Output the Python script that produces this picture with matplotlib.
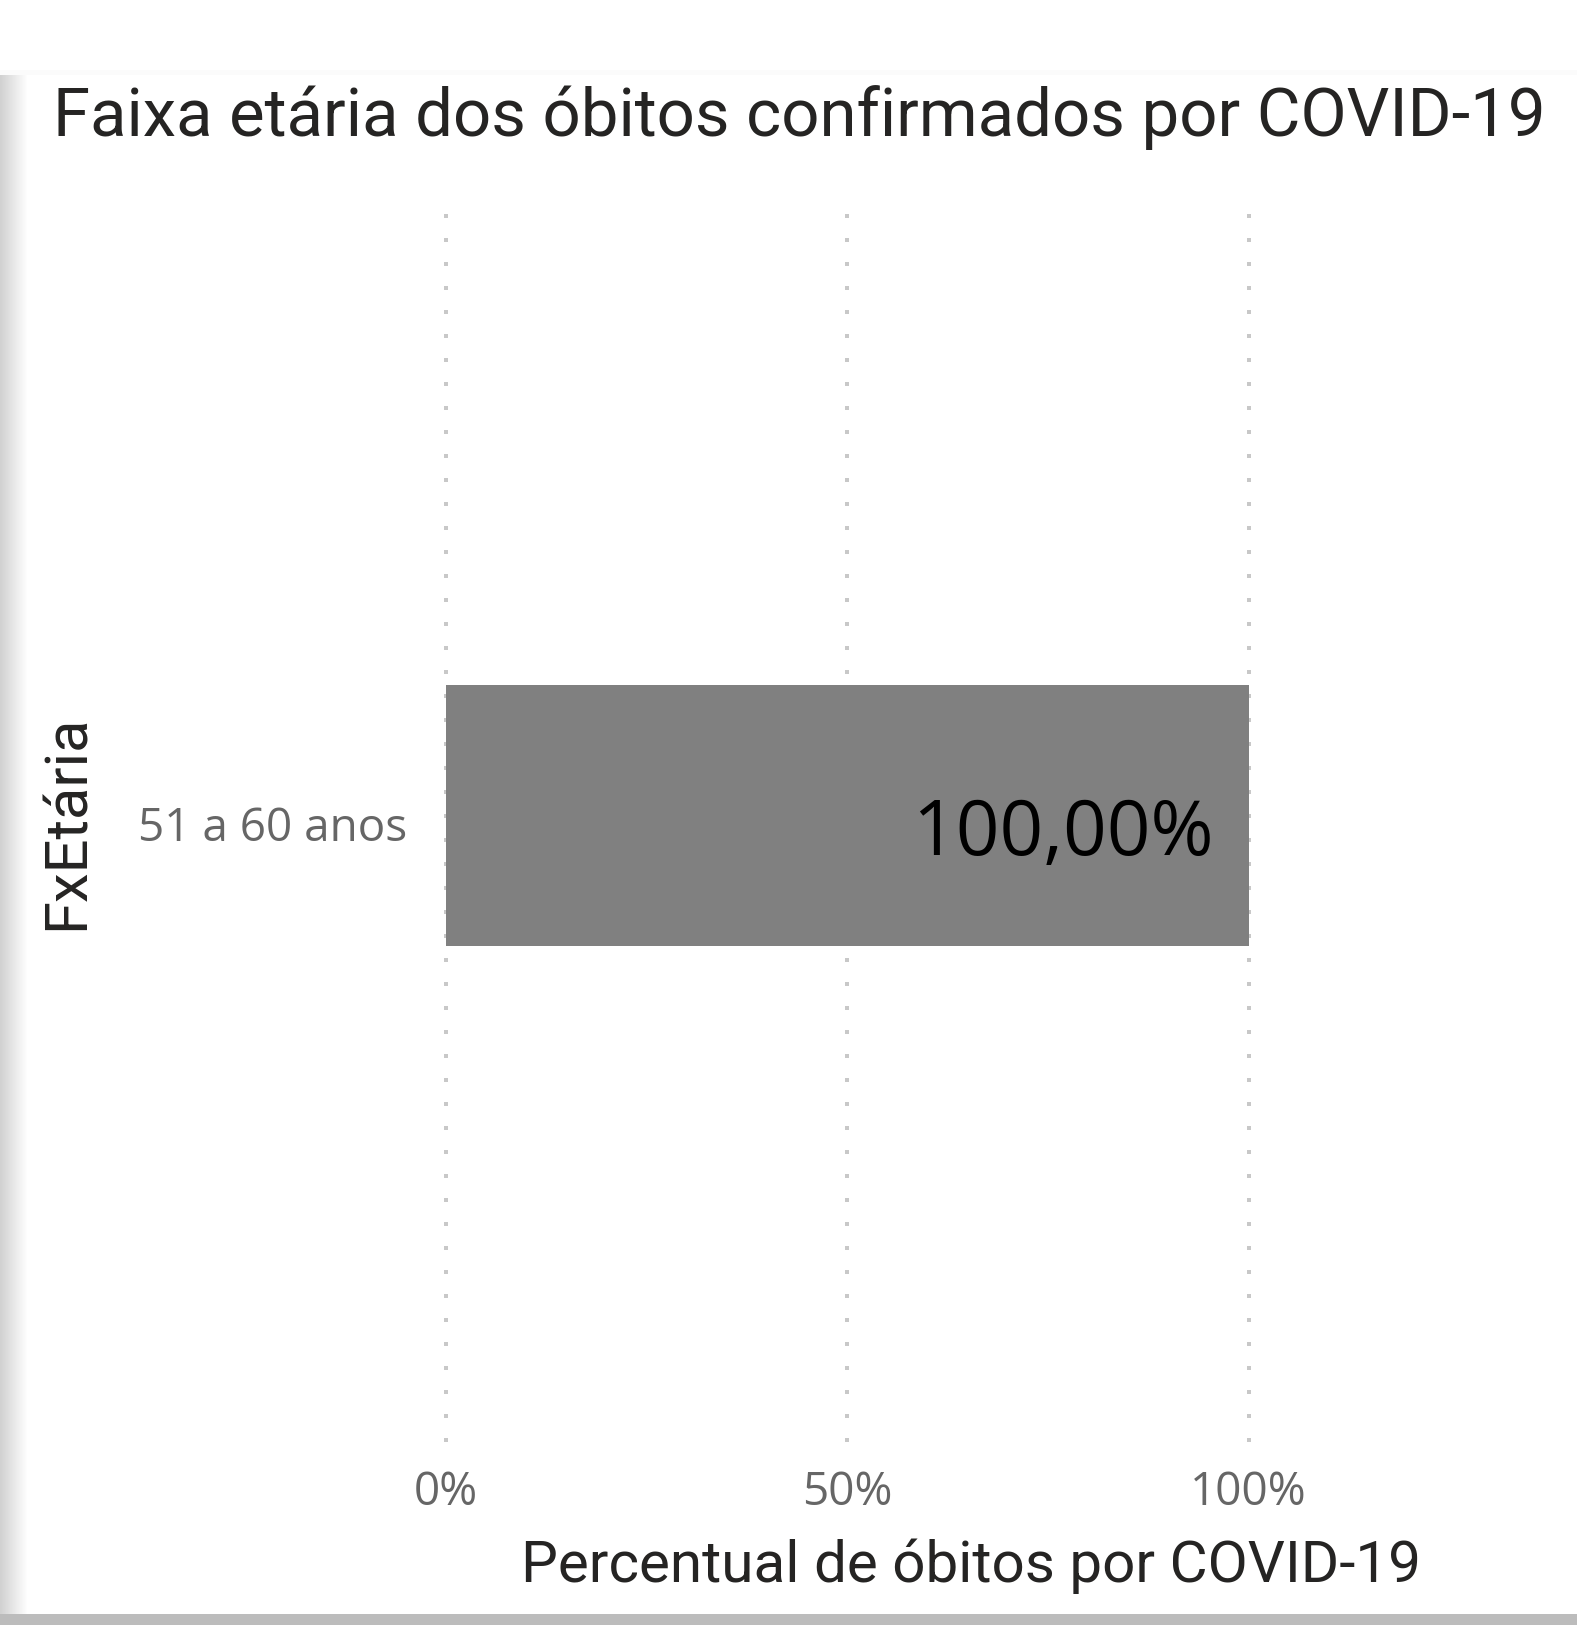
import numpy as np
import matplotlib
matplotlib.use("Agg")
import matplotlib.pyplot as plt
from matplotlib.transforms import offset_copy

# dados
categorias = ["51 a 60 anos"]
percentuais = [1.0]
rotulos = ["100,00%"]
ticks = [0.0, 0.5, 1.0]
tick_labels = ["0%", "50%", "100%"]

W, H = 1577, 1625
fig = plt.figure(figsize=(W / 100, H / 100), dpi=100)

# fundo do cartao (sombra a esquerda e faixa cinza embaixo)
bg = np.ones((H, W, 3))
sombra = np.clip(np.linspace(0.82, 1.0, 28), 0, 1)
bg[75:, :28, :] = sombra[None, :, None]
bg[70:75, :, :] = 0.985
bg[1614:, :, :] = 0.74
bg_ax = fig.add_axes([0, 0, 1, 1], zorder=-10)
bg_ax.imshow(bg, aspect="auto", interpolation="nearest")
bg_ax.axis("off")

# eixo principal
px_unit = 803.0
x0 = 445.5 - 0.02 * px_unit
ax = fig.add_axes([x0 / W, (H - 1445) / H, 1.04 * px_unit / W, 1231 / H])
ax.set_xlim(-0.02, 1.02)
y_bot, y_top = -0.5114, 0.4886
ax.set_ylim(y_bot, y_top)

ax.barh(categorias, percentuais, height=0.212, color="#808080", zorder=2)
for i, (v, r) in enumerate(zip(percentuais, rotulos)):
    ax.text(v - 0.043, i - 0.016, r, ha="right", va="center",
            fontsize=55, color="black", family="Open Sans", zorder=3)

ax.set_xticks(ticks)
ax.set_xticklabels(tick_labels, family="Open Sans", fontsize=33, color="#666666")
ax.tick_params(axis="x", length=0, pad=18)
ax.tick_params(axis="y", length=0, pad=16)
for lbl in ax.get_yticklabels():
    lbl.set_family("Open Sans")
    lbl.set_fontsize(33)
    lbl.set_color("#666666")
    lbl.set_transform(offset_copy(lbl.get_transform(), fig=fig, x=0, y=-6, units="points"))

# linhas de grade pontilhadas, desenhadas de cima para baixo
for t in ticks:
    ax.plot([t, t], [y_top, y_bot], color="#c8c8c8", lw=2.88,
            linestyle=(0, (1, 5)), zorder=1, clip_on=False)

for s in ax.spines.values():
    s.set_visible(False)
ax.set_facecolor("none")

escuro = "#252423"
fig.text(53 / W, 1 - 118 / H, "Faixa etária dos óbitos confirmados por COVID-19",
         ha="left", va="center", fontsize=48.3, color=escuro, family="Roboto")
fig.text(971 / W, 1 - 1566 / H, "Percentual de óbitos por COVID-19",
         ha="center", va="center", fontsize=42, color=escuro, family="Roboto")
fig.text(67 / W, 1 - 822 / H, "FxEtária", rotation=90,
         ha="center", va="center", fontsize=43, color=escuro, family="Roboto")

fig.savefig("out.png", dpi=100)
